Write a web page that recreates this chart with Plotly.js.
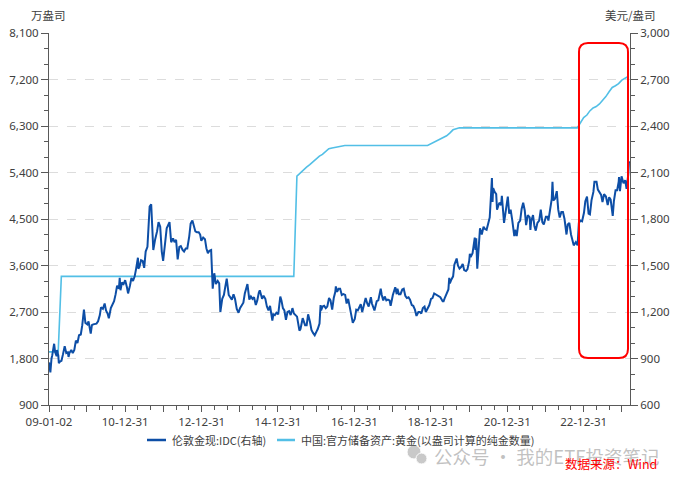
<!DOCTYPE html>
<html>
<head>
<meta charset="utf-8">
<script src="https://cdn.plot.ly/plotly-3.0.1.min.js"></script>
<style>
html,body{margin:0;padding:0;background:#fff;}
#chart{width:679px;height:480px;}
</style>
</head>
<body>
<div id="chart"></div>
<script>
// 伦敦金现:IDC (USD/oz)
const goldDates = [
'2009-01-02','2009-01-15','2009-01-26','2009-02-02','2009-02-20','2009-03-02','2009-03-16','2009-03-19','2009-04-01','2009-04-06','2009-04-16','2009-05-01','2009-05-15','2009-06-01','2009-06-16','2009-07-01','2009-07-08','2009-07-16','2009-08-03','2009-08-17','2009-09-01','2009-09-16','2009-10-01','2009-10-16','2009-11-02','2009-11-16','2009-12-02','2009-12-16',
'2010-01-04','2010-01-15','2010-02-05','2010-02-16','2010-03-01','2010-03-16','2010-04-01','2010-04-16','2010-05-03','2010-05-14','2010-06-01','2010-06-18','2010-07-01','2010-07-16','2010-07-28','2010-08-16','2010-09-01','2010-09-16','2010-10-01','2010-10-15','2010-11-01','2010-11-09','2010-11-16','2010-12-01','2010-12-16','2010-12-31',
'2011-01-17','2011-01-28','2011-02-15','2011-03-01','2011-03-16','2011-04-01','2011-04-15','2011-05-02','2011-05-06','2011-05-16','2011-06-01','2011-06-16','2011-07-01','2011-07-15','2011-08-01','2011-08-10','2011-08-22','2011-09-06','2011-09-16','2011-09-26','2011-10-14','2011-11-01','2011-11-15','2011-12-01','2011-12-16','2011-12-29',
'2012-01-16','2012-02-01','2012-02-28','2012-03-15','2012-04-02','2012-04-16','2012-05-01','2012-05-16','2012-06-01','2012-06-15','2012-07-02','2012-07-16','2012-08-01','2012-08-16','2012-09-04','2012-09-17','2012-10-04','2012-10-16','2012-11-01','2012-11-16','2012-12-03','2012-12-17','2012-12-28',
'2013-01-15','2013-02-01','2013-02-15','2013-03-01','2013-03-15','2013-04-01','2013-04-16','2013-05-01','2013-05-16','2013-06-03','2013-06-17','2013-06-28','2013-07-16','2013-08-01','2013-08-16','2013-08-28','2013-09-16','2013-10-01','2013-10-16','2013-11-01','2013-11-15','2013-12-02','2013-12-19',
'2014-01-02','2014-01-16','2014-02-03','2014-02-17','2014-03-03','2014-03-14','2014-04-01','2014-04-16','2014-05-01','2014-05-16','2014-06-02','2014-06-16','2014-07-01','2014-07-10','2014-08-01','2014-08-15','2014-09-01','2014-09-16','2014-10-01','2014-10-16','2014-11-07','2014-11-17','2014-12-01','2014-12-16',
'2015-01-02','2015-01-22','2015-02-02','2015-02-16','2015-03-02','2015-03-17','2015-04-01','2015-04-16','2015-05-01','2015-05-18','2015-06-01','2015-06-16','2015-07-01','2015-07-24','2015-08-03','2015-08-24','2015-09-01','2015-09-16','2015-10-01','2015-10-15','2015-11-02','2015-11-16','2015-12-01','2015-12-17',
'2016-01-04','2016-01-15','2016-02-01','2016-02-11','2016-02-16','2016-03-01','2016-03-16','2016-04-01','2016-04-15','2016-05-02','2016-05-16','2016-06-01','2016-06-16','2016-07-01','2016-07-06','2016-07-18','2016-08-01','2016-08-16','2016-09-01','2016-09-16','2016-10-03','2016-10-17','2016-11-01','2016-11-16','2016-12-01','2016-12-15',
'2017-01-03','2017-01-17','2017-02-01','2017-02-15','2017-03-01','2017-03-15','2017-04-03','2017-04-17','2017-05-02','2017-05-16','2017-06-06','2017-06-16','2017-07-10','2017-08-01','2017-08-16','2017-09-01','2017-09-08','2017-09-18','2017-10-02','2017-10-16','2017-11-01','2017-11-16','2017-12-01','2017-12-12',
'2018-01-02','2018-01-25','2018-02-08','2018-02-15','2018-03-01','2018-03-16','2018-04-02','2018-04-16','2018-05-01','2018-05-16','2018-06-01','2018-06-15','2018-07-02','2018-07-16','2018-08-01','2018-08-16','2018-09-03','2018-09-17','2018-10-01','2018-10-16','2018-11-01','2018-11-13','2018-12-03','2018-12-17',
'2019-01-02','2019-01-16','2019-02-01','2019-02-15','2019-03-01','2019-03-15','2019-04-01','2019-04-23','2019-05-02','2019-05-16','2019-06-03','2019-06-17','2019-06-25','2019-07-01','2019-07-16','2019-08-01','2019-08-13','2019-09-04','2019-09-16','2019-10-01','2019-10-16','2019-11-01','2019-11-15','2019-12-02','2019-12-16',
'2020-01-02','2020-01-08','2020-01-16','2020-02-03','2020-02-24','2020-03-02','2020-03-09','2020-03-19','2020-04-01','2020-04-14','2020-05-01','2020-05-18','2020-06-01','2020-06-16','2020-07-01','2020-07-16','2020-07-28','2020-08-06','2020-08-12','2020-08-18','2020-09-01','2020-09-16','2020-09-24','2020-10-16','2020-11-02','2020-11-09','2020-11-30','2020-12-16',
'2021-01-05','2021-01-18','2021-02-01','2021-02-16','2021-03-01','2021-03-08','2021-03-16','2021-03-31','2021-04-16','2021-05-03','2021-05-17','2021-06-01','2021-06-16','2021-06-29','2021-07-15','2021-08-02','2021-08-09','2021-08-16','2021-09-03','2021-09-16','2021-09-29','2021-10-15','2021-11-01','2021-11-16','2021-12-01','2021-12-15',
'2022-01-04','2022-01-18','2022-01-28','2022-02-16','2022-03-01','2022-03-08','2022-03-16','2022-04-01','2022-04-18','2022-05-02','2022-05-16','2022-06-01','2022-06-16','2022-07-01','2022-07-20','2022-08-01','2022-08-16','2022-09-01','2022-09-16','2022-09-27','2022-10-17','2022-11-03','2022-11-15','2022-12-01','2022-12-16',
'2023-01-03','2023-01-16','2023-02-01','2023-02-16','2023-03-01','2023-03-16','2023-04-03','2023-04-13','2023-05-03','2023-05-16','2023-06-01','2023-06-16','2023-06-29','2023-07-14','2023-08-01','2023-08-18','2023-09-01','2023-09-15','2023-10-05','2023-10-16','2023-11-01','2023-11-16','2023-12-01','2023-12-04','2023-12-13','2023-12-28',
'2024-01-16','2024-02-01','2024-02-14','2024-03-01','2024-03-08','2024-03-15'
];
const goldPrices = [
875,810,900,920,995,940,915,955,920,870,880,885,925,980,935,940,910,935,955,935,955,1015,1000,1050,1055,1115,1215,1130,
1120,1140,1060,1115,1120,1125,1125,1140,1180,1230,1220,1255,1210,1190,1160,1225,1250,1270,1315,1370,1350,1420,1340,1390,1380,1405,
1360,1320,1370,1420,1400,1430,1480,1550,1480,1490,1535,1530,1485,1590,1620,1780,1880,1895,1780,1600,1670,1720,1780,1750,1590,1530,
1640,1740,1780,1650,1675,1650,1665,1540,1620,1625,1600,1590,1610,1610,1690,1770,1790,1750,1720,1715,1715,1700,1660,
1680,1670,1610,1580,1595,1600,1350,1450,1380,1400,1385,1200,1285,1310,1370,1415,1310,1290,1280,1315,1285,1220,1195,
1225,1240,1260,1320,1350,1380,1280,1300,1285,1295,1245,1275,1325,1340,1285,1305,1285,1235,1210,1240,1145,1185,1180,1195,
1185,1300,1275,1225,1210,1150,1200,1205,1180,1225,1190,1180,1170,1080,1090,1160,1140,1115,1115,1185,1135,1085,1065,1050,
1075,1090,1125,1245,1210,1235,1240,1225,1235,1290,1275,1215,1290,1330,1365,1330,1350,1350,1310,1315,1310,1255,1285,1225,1175,1130,
1155,1215,1210,1230,1250,1200,1250,1290,1255,1235,1295,1255,1210,1270,1275,1320,1350,1310,1275,1300,1275,1280,1275,1240,
1310,1360,1315,1350,1315,1315,1345,1350,1305,1290,1295,1280,1245,1240,1215,1175,1200,1200,1190,1225,1235,1200,1230,1245,
1285,1290,1320,1315,1310,1300,1295,1270,1270,1295,1325,1345,1420,1385,1410,1430,1505,1545,1500,1480,1490,1510,1470,1465,1475,
1530,1575,1555,1580,1680,1600,1675,1480,1600,1740,1700,1750,1735,1730,1770,1810,1950,2065,1910,2000,1975,1960,1860,1905,1890,1950,1775,1855,
1945,1835,1860,1795,1730,1690,1730,1690,1775,1790,1865,1905,1855,1760,1825,1810,1730,1785,1825,1755,1725,1775,1790,1860,1780,1765,
1815,1815,1790,1870,1930,2040,1920,1930,1980,1860,1810,1845,1845,1800,1700,1765,1775,1700,1665,1630,1650,1630,1775,1790,1785,
1840,1915,1945,1835,1830,1920,1975,2040,2040,1990,1975,1955,1910,1960,1945,1890,1940,1925,1820,1915,1985,1985,2040,2070,1980,2075,
2030,2050,1995,2085,2170,2160
];

// 中国:官方储备资产:黄金 (万盎司)
const reserveDates = [
'2009-01-02','2009-03-31','2009-04-30','2015-05-31','2015-06-30','2015-07-31','2015-08-31','2015-09-30','2015-10-31','2015-11-30','2015-12-31',
'2016-01-31','2016-02-29','2016-03-31','2016-04-30','2016-05-31','2016-06-30','2016-07-31','2016-08-31','2016-09-30','2018-11-30',
'2018-12-31','2019-01-31','2019-02-28','2019-03-31','2019-04-30','2019-05-31','2019-06-30','2019-07-31','2019-08-31','2019-09-30','2022-10-31',
'2022-11-30','2022-12-31','2023-01-31','2023-02-28','2023-03-31','2023-04-30','2023-05-31','2023-06-30','2023-07-31','2023-08-31','2023-09-30','2023-10-31','2023-11-30','2023-12-31','2024-01-31','2024-02-29'
];
const reserveValues = [
1929,1929,3389,3389,5331,5393,5455,5505,5552,5605,5666,
5718,5751,5814,5862,5876,5886,5892,5911,5924,5924,
5956,5994,6026,6062,6094,6110,6161,6226,6245,6264,6264,
6367,6464,6512,6592,6650,6676,6727,6795,6869,6962,7046,7080,7120,7187,7219,7258
];

const xTickVals = ['2009-01-02','2009-12-31','2010-12-31','2011-12-31','2012-12-31','2013-12-31','2014-12-31','2015-12-31','2016-12-31','2017-12-31','2018-12-31','2019-12-31','2020-12-31','2021-12-31','2022-12-31','2023-12-31'];
const xTickText = ['09-01-02','','10-12-31','','12-12-31','','14-12-31','','16-12-31','','18-12-31','','20-12-31','','22-12-31',''];

const goldName = '伦敦金现:IDC(右轴)';
const reserveName = '中国:官方储备资产:黄金(以盎司计算的纯金数量)';
const goldColor = '#0d4ea6';
const reserveColor = '#52bfe6';

const FONT = 'Noto Sans, Noto Sans CJK SC, sans-serif';
const CJK = 'Noto Sans CJK SC, sans-serif';
const axisColor = '#595959';

const traces = [
  {x: goldDates, y: goldPrices, name: goldName, type: 'scatter', mode: 'lines', yaxis: 'y2',
   line: {color: goldColor, width: 2}},
  {x: reserveDates, y: reserveValues, name: reserveName, type: 'scatter', mode: 'lines', yaxis: 'y',
   line: {color: reserveColor, width: 1.6}}
];

function px2x(p){ return (p-49)/581; }
function py2y(p){ return (405-p)/372; }

// rounded red highlight box (paper coords)
const bx0 = px2x(579), bx1 = px2x(628), by0 = py2y(358), by1 = py2y(43);
const rx = 9/581, ry = 9/372;
const boxPath = `M ${bx0+rx} ${by0} L ${bx1-rx} ${by0} Q ${bx1} ${by0} ${bx1} ${by0+ry} L ${bx1} ${by1-ry} Q ${bx1} ${by1} ${bx1-rx} ${by1} L ${bx0+rx} ${by1} Q ${bx0} ${by1} ${bx0} ${by1-ry} L ${bx0} ${by0+ry} Q ${bx0} ${by0} ${bx0+rx} ${by0} Z`;

const legY = py2y(440);

const layout = {
  width: 679, height: 480,
  margin: {l: 49, r: 49, t: 33, b: 75},
  paper_bgcolor: '#ffffff', plot_bgcolor: '#ffffff',
  font: {family: FONT, size: 11.5, color: '#404040'},
  showlegend: false,
  xaxis: {
    type: 'date', range: ['2009-01-02', '2024-03-18'],
    tickmode: 'array', tickvals: xTickVals, ticktext: xTickText,
    ticks: 'outside', ticklen: 6, tickwidth: 1, tickcolor: axisColor,
    showline: true, linecolor: axisColor, linewidth: 1,
    showgrid: false, zeroline: false,
    tickfont: {family: FONT, size: 11.5, color: '#404040'},
    minor: {tick0: '2008-12-31', dtick: 'M4', ticks: 'outside', ticklen: 4, tickcolor: axisColor, showgrid: false}
  },
  yaxis: {
    range: [900, 8100], tickmode: 'linear', tick0: 900, dtick: 900, tickformat: ',d',
    ticks: 'outside', ticklen: 7, tickcolor: axisColor,
    showline: true, linecolor: axisColor, linewidth: 1,
    showgrid: true, gridcolor: '#dcdcdc', griddash: 'dash', gridwidth: 1, zeroline: false,
    tickfont: {family: FONT, size: 11.5, color: '#404040'},
    minor: {dtick: 300, tick0: 900, ticks: 'outside', ticklen: 4, tickcolor: axisColor, showgrid: false}
  },
  yaxis2: {
    range: [600, 3000], tickmode: 'linear', tick0: 600, dtick: 300, tickformat: ',d',
    overlaying: 'y', side: 'right',
    ticks: 'outside', ticklen: 7, tickcolor: axisColor,
    showline: true, linecolor: axisColor, linewidth: 1,
    showgrid: false, zeroline: false,
    tickfont: {family: FONT, size: 11.5, color: '#404040'},
    minor: {dtick: 100, tick0: 600, ticks: 'outside', ticklen: 4, tickcolor: axisColor, showgrid: false}
  },
  shapes: [
    {type: 'path', xref: 'paper', yref: 'paper', path: boxPath, line: {color: '#ff0000', width: 2}, fillcolor: 'rgba(0,0,0,0)'},
    // legend samples
    {type: 'line', xref: 'paper', yref: 'paper', x0: px2x(147), x1: px2x(166), y0: legY, y1: legY, line: {color: goldColor, width: 2.5}},
    {type: 'line', xref: 'paper', yref: 'paper', x0: px2x(277), x1: px2x(295), y0: legY, y1: legY, line: {color: reserveColor, width: 2.5}},
    // watermark icon
    {type: 'circle', xref: 'paper', yref: 'paper', x0: px2x(407), x1: px2x(421), y0: py2y(459), y1: py2y(445),
     fillcolor: '#c9c9c9', line: {color: '#ffffff', width: 1}},
    {type: 'circle', xref: 'paper', yref: 'paper', x0: px2x(416), x1: px2x(427), y0: py2y(464), y1: py2y(453),
     fillcolor: '#c9c9c9', line: {color: '#ffffff', width: 1}}
  ],
  annotations: [
    {text: '万盎司', xref: 'paper', yref: 'paper', x: px2x(48), y: py2y(15), xanchor: 'center', yanchor: 'middle',
     showarrow: false, font: {family: CJK, size: 11.5, color: '#404040'}},
    {text: '美元/盎司', xref: 'paper', yref: 'paper', x: px2x(630), y: py2y(15), xanchor: 'center', yanchor: 'middle',
     showarrow: false, font: {family: CJK, size: 11.5, color: '#404040'}},
    {text: goldName, xref: 'paper', yref: 'paper', x: px2x(170), y: legY, xanchor: 'left', yanchor: 'middle',
     showarrow: false, font: {family: CJK, size: 11, color: '#404040'}},
    {text: reserveName, xref: 'paper', yref: 'paper', x: px2x(299), y: legY, xanchor: 'left', yanchor: 'middle',
     showarrow: false, font: {family: CJK, size: 11, color: '#404040'}},
    {text: '公众号 · 我的ETF投资笔记', xref: 'paper', yref: 'paper', x: px2x(432), y: py2y(456), xanchor: 'left', yanchor: 'middle',
     showarrow: false, font: {family: CJK, size: 18.5, color: 'rgba(170,170,170,0.72)'}},
    {text: '数据来源：Wind', xref: 'paper', yref: 'paper', x: px2x(659), y: py2y(463), xanchor: 'right', yanchor: 'middle',
     showarrow: false, font: {family: CJK, size: 12.5, color: '#ff0000'}}
  ]
};

Plotly.newPlot('chart', traces, layout, {displayModeBar: false, staticPlot: true});
</script>
</body>
</html>
